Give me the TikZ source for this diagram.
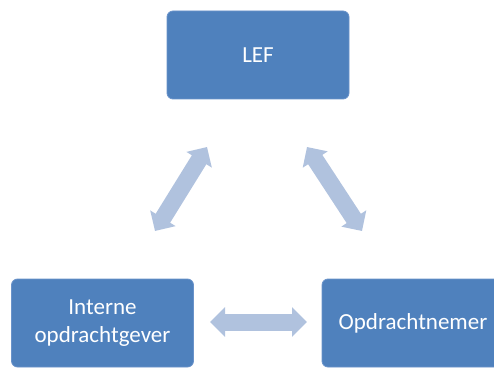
\documentclass[tikz,border=0pt]{standalone}
\usepackage{fontspec}
\setmainfont{Carlito}
\usetikzlibrary{arrows.meta}
\definecolor{boxblue}{HTML}{4F81BD}
\definecolor{boxedge}{HTML}{6A93CA}
\definecolor{arrowblue}{HTML}{B0C2DE}
\begin{document}
\begin{tikzpicture}[x=1pt,y=1pt,
  box/.style={draw=boxedge, line width=0.8pt, fill=boxblue, rounded corners=6pt,
    minimum width=182pt, minimum height=88pt, inner sep=0pt,
    text=white, align=center, font=\fontsize{23}{28}\selectfont},
  blockarrow/.style={draw=arrowblue, line width=17pt,
    {Triangle[length=15pt, width=29pt]}-{Triangle[length=15pt, width=29pt]}}
]
\useasboundingbox (0,0) rectangle (494,367);
\clip (0,0) rectangle (494,367);
\node[box] (lef) at (258,312) {LEF};
\node[box] (io) at (102.5,44) {Interne\\opdrachtgever};
\node[box] (on) at (413,44) {Opdrachtnemer};
\coordinate (a1) at (155,136);
\coordinate (a2) at (207,220);
\coordinate (b1) at (307,220);
\coordinate (b2) at (362,136);
\coordinate (c1) at (210,45);
\coordinate (c2) at (307,45);
\draw[blockarrow] (a1) -- (a2);
\draw[blockarrow] (b1) -- (b2);
\draw[blockarrow] (c1) -- (c2);
\end{tikzpicture}
\end{document}
